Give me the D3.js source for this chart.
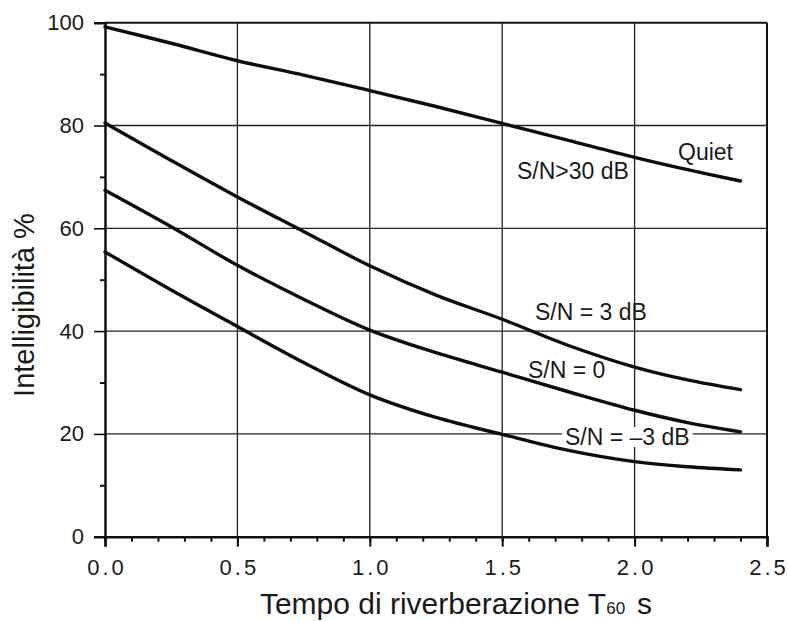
<!DOCTYPE html>
<html>
<head>
<meta charset="utf-8">
<script src="https://cdn.jsdelivr.net/npm/d3@7/dist/d3.min.js"></script>
<style>
  html, body { margin: 0; padding: 0; background: #fff; }
  svg { display: block; }
  text { font-family: "Liberation Sans", Arial, Helvetica, sans-serif; fill: #1a1a1a; }
</style>
</head>
<body>
<svg id="chart" width="788" height="621"></svg>
<script>
// ---- Data ----
const reverbTimes = [0, 0.25, 0.5, 0.75, 1.0, 1.25, 1.5, 1.75, 2.0, 2.2, 2.4];
const quiet     = [99.2, 96.0, 92.6, 89.8, 86.8, 83.7, 80.4, 77.1, 73.8, 71.4, 69.2];
const sn3       = [80.5, 73.2, 66.1, 59.4, 52.7, 47.0, 42.3, 37.2, 33.0, 30.5, 28.6];
const sn0       = [67.4, 60.3, 52.8, 46.2, 40.2, 35.8, 32.0, 28.2, 24.6, 22.2, 20.4];
const snMinus3  = [55.4, 48.0, 40.9, 33.9, 27.6, 23.2, 19.9, 16.8, 14.6, 13.6, 13.0];
const seriesNames = ["Quiet", "S/N = 3 dB", "S/N = 0", "S/N = \u20133 dB"];
const xTickLabels = ["0.0", "0.5", "1.0", "1.5", "2.0", "2.5"];
const yTickValues = [0, 20, 40, 60, 80, 100];
const xTitle = "Tempo di riverberazione T";
const xTitleSub = "60";
const xTitleUnit = "s";
const yTitle = "Intelligibilit\u00e0 %";

const svg = d3.select("#chart");
const plotL = 105, plotR = 767, plotT = 22.7, plotB = 536.7;

const x = d3.scaleLinear().domain([0, 2.5]).range([plotL, plotR]);
const y = d3.scaleLinear().domain([0, 100]).range([plotB, plotT]);

// ---- Grid ----
const grid = svg.append("g").attr("stroke", "#222").attr("stroke-width", 1.3);
[0.5, 1.0, 1.5, 2.0].forEach(v => {
  grid.append("line").attr("x1", x(v)).attr("x2", x(v)).attr("y1", y(0)).attr("y2", y(100));
});
[20, 40, 60, 80].forEach(v => {
  grid.append("line").attr("x1", x(0)).attr("x2", x(2.5)).attr("y1", y(v)).attr("y2", y(v));
});
// frame top/right
svg.append("line").attr("x1", x(0)).attr("x2", x(2.5)).attr("y1", y(100)).attr("y2", y(100))
  .attr("stroke", "#111").attr("stroke-width", 2);
svg.append("line").attr("x1", x(2.5)).attr("x2", x(2.5)).attr("y1", y(100)).attr("y2", y(0))
  .attr("stroke", "#111").attr("stroke-width", 2);

// ---- Axes ----
const xMinor = d3.axisBottom(x).tickValues(d3.range(0, 26).map(i => i / 10)).tickSize(5).tickFormat("");
svg.append("g").attr("transform", `translate(0,${y(0)})`).call(xMinor)
  .call(g => g.select(".domain").remove())
  .call(g => g.selectAll("line").attr("stroke", "#111").attr("stroke-width", 2));

const xMajor = d3.axisBottom(x).tickValues([0, 0.5, 1, 1.5, 2, 2.5]).tickSize(10)
  .tickFormat((d, i) => xTickLabels[i]).tickPadding(13);
svg.append("g").attr("transform", `translate(0,${y(0)})`).call(xMajor)
  .call(g => g.select(".domain").attr("stroke", "#111").attr("stroke-width", 2.5))
  .call(g => g.selectAll("line").attr("stroke", "#111").attr("stroke-width", 2))
  .call(g => g.selectAll("text").attr("font-size", 22).attr("letter-spacing", "3px")
    .attr("dx", 1.5).attr("fill", "#1a1a1a").attr("font-family", "Liberation Sans, Arial, sans-serif"));

const yMinor = d3.axisLeft(y).tickValues([10, 30, 50, 70, 90]).tickSize(5).tickFormat("");
svg.append("g").attr("transform", `translate(${x(0)},0)`).call(yMinor)
  .call(g => g.select(".domain").remove())
  .call(g => g.selectAll("line").attr("stroke", "#111").attr("stroke-width", 2));

const yMajor = d3.axisLeft(y).tickValues(yTickValues).tickSize(11).tickPadding(10);
svg.append("g").attr("transform", `translate(${x(0)},0)`).call(yMajor)
  .call(g => g.select(".domain").attr("stroke", "#111").attr("stroke-width", 2.5))
  .call(g => g.selectAll("line").attr("stroke", "#111").attr("stroke-width", 1.6))
  .call(g => g.selectAll("text").attr("font-size", 22).attr("fill", "#1a1a1a")
    .attr("font-family", "Liberation Sans, Arial, sans-serif"));

// ---- Curves ----
const line = d3.line().x(d => x(d[0])).y(d => y(d[1])).curve(d3.curveCatmullRom.alpha(0.5));
[quiet, sn3, sn0, snMinus3].forEach(vals => {
  svg.append("path")
    .datum(reverbTimes.map((t, i) => [t, vals[i]]))
    .attr("d", line)
    .attr("fill", "none").attr("stroke", "#0d0d0d").attr("stroke-width", 3.4)
    .attr("stroke-linecap", "round");
});

// ---- Annotations ----
const ann = svg.append("g").attr("font-size", 23);
ann.append("text").attr("x", 678).attr("y", 160).text(seriesNames[0]);
ann.append("text").attr("x", 517).attr("y", 179).text("S/N>30 dB");
ann.append("text").attr("x", 535).attr("y", 320).text(seriesNames[1]);
ann.append("text").attr("x", 528).attr("y", 378).text(seriesNames[2]);
const lbl = ann.append("text").attr("x", 565).attr("y", 445).text(seriesNames[3]);
const bb = lbl.node().getBBox();
ann.insert("rect", "text:last-child")
  .attr("x", bb.x - 3).attr("y", bb.y + 3).attr("width", bb.width + 6).attr("height", bb.height - 6)
  .attr("fill", "#fff");
lbl.raise();

// ---- Titles ----
const xt = svg.append("text").attr("x", 456).attr("y", 614).attr("text-anchor", "middle")
  .attr("font-size", 30);
xt.append("tspan").text(xTitle);
xt.append("tspan").attr("font-size", 17).text(xTitleSub);
xt.append("tspan").attr("dx", 12).text(xTitleUnit);

svg.append("text").attr("transform", "translate(34,305) rotate(-90)")
  .attr("text-anchor", "middle").attr("font-size", 29).text(yTitle);
</script>
</body>
</html>
